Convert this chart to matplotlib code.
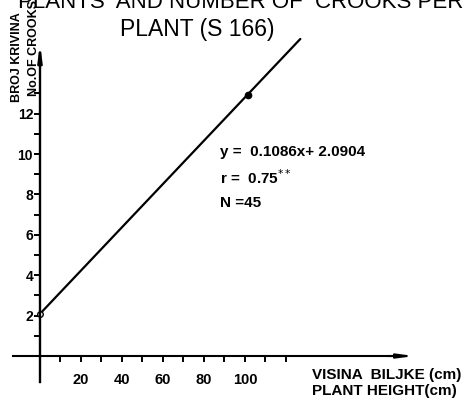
import matplotlib.pyplot as plt
from matplotlib.ticker import FixedLocator

# regression line as drawn (start / end) and the marked point
line_x = [0, 127]
line_y = [2.09, 15.7]
point_x = [101.5]
point_y = [12.9]

xticks = [10, 20, 30, 40, 50, 60, 70, 80, 90, 100, 110, 120]
xlabels = ['', '20', '', '40', '', '60', '', '80', '', '100', '', '']
yticks = [1, 2, 3, 4, 5, 6, 7, 8, 9, 10, 11, 12, 13]
ylabels = ['', '2', '', '4', '', '6', '', '8', '', '10', '', '12', '']

plt.rcParams['font.family'] = ['Liberation Sans', 'DejaVu Sans']

fig = plt.figure(figsize=(4.74, 4.03), dpi=100)
ax = fig.add_axes([0.0238, 0.0464, 0.865, 0.862])
ax.set_xlim(-14, 186)
ax.set_ylim(-1.4, 15.8)

ax.plot(line_x, line_y, color='k', lw=1.6, solid_capstyle='round')
ax.plot(line_x[:1], line_y[:1], 'o', ms=4, mfc='white', mec='k', mew=1)
ax.plot(point_x, point_y, 'o', ms=4.5, color='k')

for s in ['top', 'right']:
    ax.spines[s].set_visible(False)
ax.spines['left'].set_position(('data', 0))
ax.spines['bottom'].set_position(('data', 0))
ax.spines['left'].set_bounds(-1.3, 15.0)
ax.spines['bottom'].set_bounds(-13, 172)
ax.spines['left'].set_linewidth(1.7)
ax.spines['bottom'].set_linewidth(1.5)
ax.annotate('', xy=(184, 0), xytext=(168, 0),
            arrowprops=dict(arrowstyle='-|>,head_length=0.9,head_width=0.12', color='k', lw=1.5))
ax.annotate('', xy=(0, 15.6), xytext=(0, 14.5),
            arrowprops=dict(arrowstyle='-|>,head_length=0.9,head_width=0.12', color='k', lw=1.7))

ax.xaxis.set_major_locator(FixedLocator(xticks))
ax.set_xticklabels(xlabels, fontsize=10.5, fontweight='bold')
ax.yaxis.set_major_locator(FixedLocator(yticks))
ax.set_yticklabels(ylabels, fontsize=10, fontweight='bold')
ax.tick_params(axis='x', direction='out', length=4, width=1.4, pad=8)
ax.tick_params(axis='y', direction='out', length=4, width=1.4, pad=1)

ax.text(88, 10.1, 'y =  0.1086x+ 2.0904', fontsize=11, fontweight='bold', va='center')
ax.text(88, 8.85, r'r =  0.75$^{**}$', fontsize=11, fontweight='bold', va='center')
ax.text(88, 7.6, 'N =45', fontsize=11, fontweight='bold', va='center')

fig.text(312 / 474, 1 - 375.5 / 403, 'VISINA  BILJKE (cm)', fontsize=11, fontweight='bold', va='center')
fig.text(312 / 474, 1 - 391 / 403, 'PLANT HEIGHT(cm)', fontsize=11, fontweight='bold', va='center')

fig.text(17 / 474, 1 - 57 / 403, 'BROJ KRIVINA', fontsize=9, fontweight='bold',
         rotation=90, ha='center', va='center')
fig.text(34 / 474, 1 - 48 / 403, 'No.OF CROOKS', fontsize=9, fontweight='bold',
         rotation=90, ha='center', va='center')

fig.text(18 / 474, 1 - 8 / 403, 'PLANTS  AND NUMBER OF  CROOKS PER', fontsize=16, va='baseline')
fig.text(120 / 474, 1 - 36 / 403, 'PLANT (S 166)', fontsize=16.5, va='baseline')

fig.savefig('out.png', dpi=100)
